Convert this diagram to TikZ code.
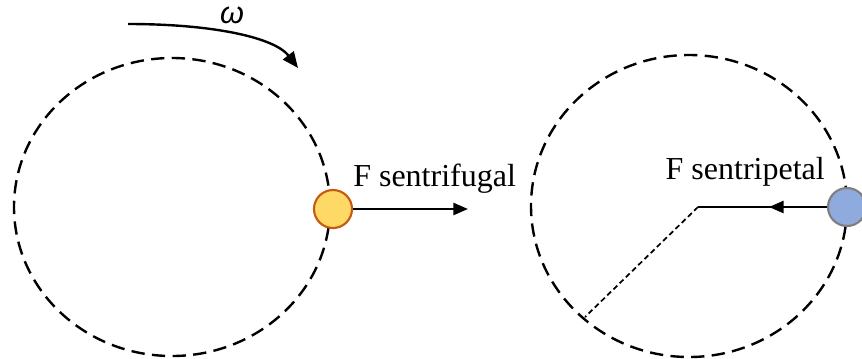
\documentclass[tikz,border=0pt]{standalone}
\usepackage{fontspec}
\setmainfont{Liberation Serif}
\newfontfamily\omegafont{Liberation Sans}
\usetikzlibrary{arrows.meta,decorations.markings}

\tikzset{
  orbit/.style={line width=1.8pt,dash pattern=on 10pt off 5.5pt},
  radius line/.style={line width=1.3pt,dash pattern=on 4pt off 2.5pt},
  force/.style={line width=1.8pt},
  ball/.style={circle,minimum size=28.5pt,inner sep=0pt,line width=1.6pt},
  label text/.style={font=\fontsize{24}{28}\selectfont,inner sep=0pt}
}

\begin{document}
\begin{tikzpicture}[x=0.75pt,y=-0.75pt]
   \useasboundingbox (0,0) rectangle (862,358);

   % kiri: gaya sentrifugal
   \draw[orbit] (172,207) ellipse [x radius=158,y radius=149];
   \node[ball,draw={rgb,255:red,197;green,90;blue,17},fill={rgb,255:red,255;green,217;blue,102}] (bolaA) at (333,209) {};
   \coordinate (ujungA) at (468,209);
   \draw[force,-{Triangle[length=11pt,width=9pt]}] (bolaA) -- (ujungA);
   \node[label text,anchor=base west] (tSentrifugal) at (353,186) {F sentrifugal};

   % putaran
   \coordinate (wAwal) at (128,24);
   \coordinate (wAkhir) at (298,68);
   \draw[force,-{Triangle[length=12pt,width=10pt]}] (wAwal) .. controls (215,24) and (275,38) .. (wAkhir);
   \node[font=\omegafont\itshape\fontsize{23}{26}\selectfont,inner sep=0pt] (omega) at (232,15) {ω};

   % kanan: gaya sentripetal
   \draw[orbit] (689,206) ellipse [x radius=158,y radius=151];
   \node[ball,draw={rgb,255:red,127;green,127;blue,127},fill={rgb,255:red,143;green,170;blue,220}] (bolaB) at (847,207) {};
   \coordinate (pusat) at (698,207);
   \coordinate (tepi) at (585,317);
   \draw[force,decoration={markings,mark=at position 0.45 with {\arrow{Triangle[length=11pt,width=9pt]}}},postaction={decorate}] (bolaB) -- (pusat);
   \draw[radius line] (pusat) -- (tepi);
   \node[label text,anchor=base east] (tSentripetal) at (825,179) {F sentripetal};
\end{tikzpicture}
\end{document}
